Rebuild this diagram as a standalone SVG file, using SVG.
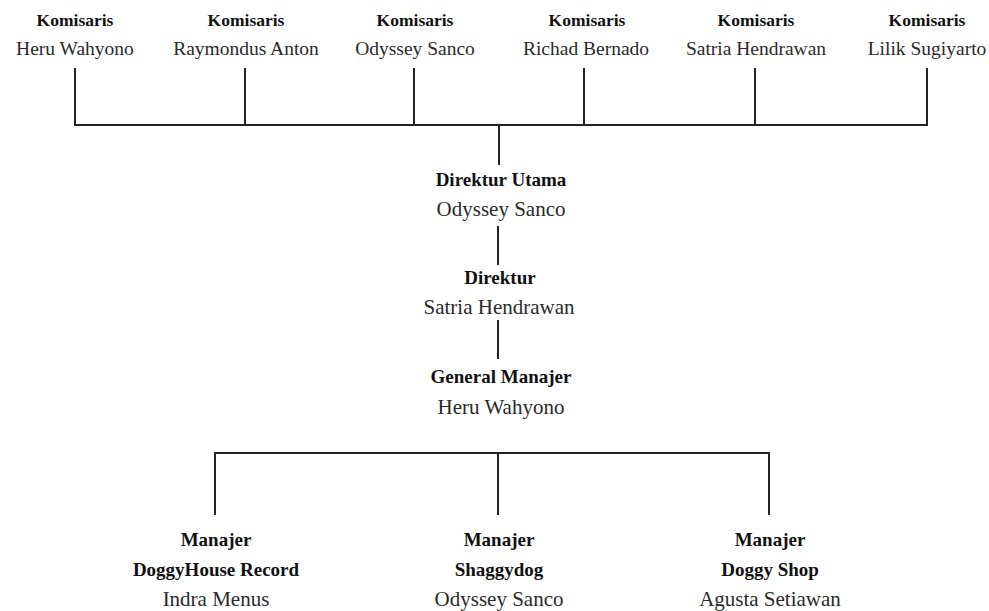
<svg xmlns="http://www.w3.org/2000/svg" width="989" height="611" viewBox="0 0 989 611">
<style>
text{font-family:"Liberation Serif","Times New Roman",serif;text-anchor:middle}
.t{font-weight:bold;fill:#111}
.n{fill:#2a2a2a}
.tk{font-size:17.5px}
.nk{font-size:19.5px}
.tm{font-size:19px}
.nm{font-size:21px}
.c{stroke:#222;stroke-width:2;fill:none}
</style>
<rect width="989" height="611" fill="#fff"/>
<g id="connectors">
<path class="c" d="M75 68V125M245 68V125M414 68V125M584 68V125M755 68V125M927 68V125M74 125H928M499 125V165"/>
<path class="c" d="M498 226V265M498 320V359"/>
<path class="c" d="M215 515V453H769V515M498 453V515"/>
</g>
<g id="kom1"><text class="t tk" x="75" y="26">Komisaris</text><text class="n nk" x="75" y="55">Heru Wahyono</text></g>
<g id="kom2"><text class="t tk" x="246" y="26">Komisaris</text><text class="n nk" x="246" y="55">Raymondus Anton</text></g>
<g id="kom3"><text class="t tk" x="415" y="26">Komisaris</text><text class="n nk" x="415" y="55">Odyssey Sanco</text></g>
<g id="kom4"><text class="t tk" x="587" y="26">Komisaris</text><text class="n nk" x="586" y="55">Richad Bernado</text></g>
<g id="kom5"><text class="t tk" x="756" y="26">Komisaris</text><text class="n nk" x="756" y="55">Satria Hendrawan</text></g>
<g id="kom6"><text class="t tk" x="927" y="26">Komisaris</text><text class="n nk" x="927" y="55">Lilik Sugiyarto</text></g>
<g id="dirut"><text class="t tm" x="501" y="186">Direktur Utama</text><text class="n nm" x="501" y="216">Odyssey Sanco</text></g>
<g id="dir"><text class="t tm" x="500" y="284">Direktur</text><text class="n nm" x="499" y="314">Satria Hendrawan</text></g>
<g id="gm"><text class="t tm" x="501" y="383">General Manajer</text><text class="n nm" x="501" y="414">Heru Wahyono</text></g>
<g id="m1"><text class="t tm" x="216" y="546">Manajer</text><text class="t tm" x="216" y="576">DoggyHouse Record</text><text class="n nm" x="216" y="606">Indra Menus</text></g>
<g id="m2"><text class="t tm" x="499" y="546">Manajer</text><text class="t tm" x="499" y="576">Shaggydog</text><text class="n nm" x="499" y="606">Odyssey Sanco</text></g>
<g id="m3"><text class="t tm" x="770" y="546">Manajer</text><text class="t tm" x="770" y="576">Doggy Shop</text><text class="n nm" x="770" y="606">Agusta Setiawan</text></g>
</svg>
